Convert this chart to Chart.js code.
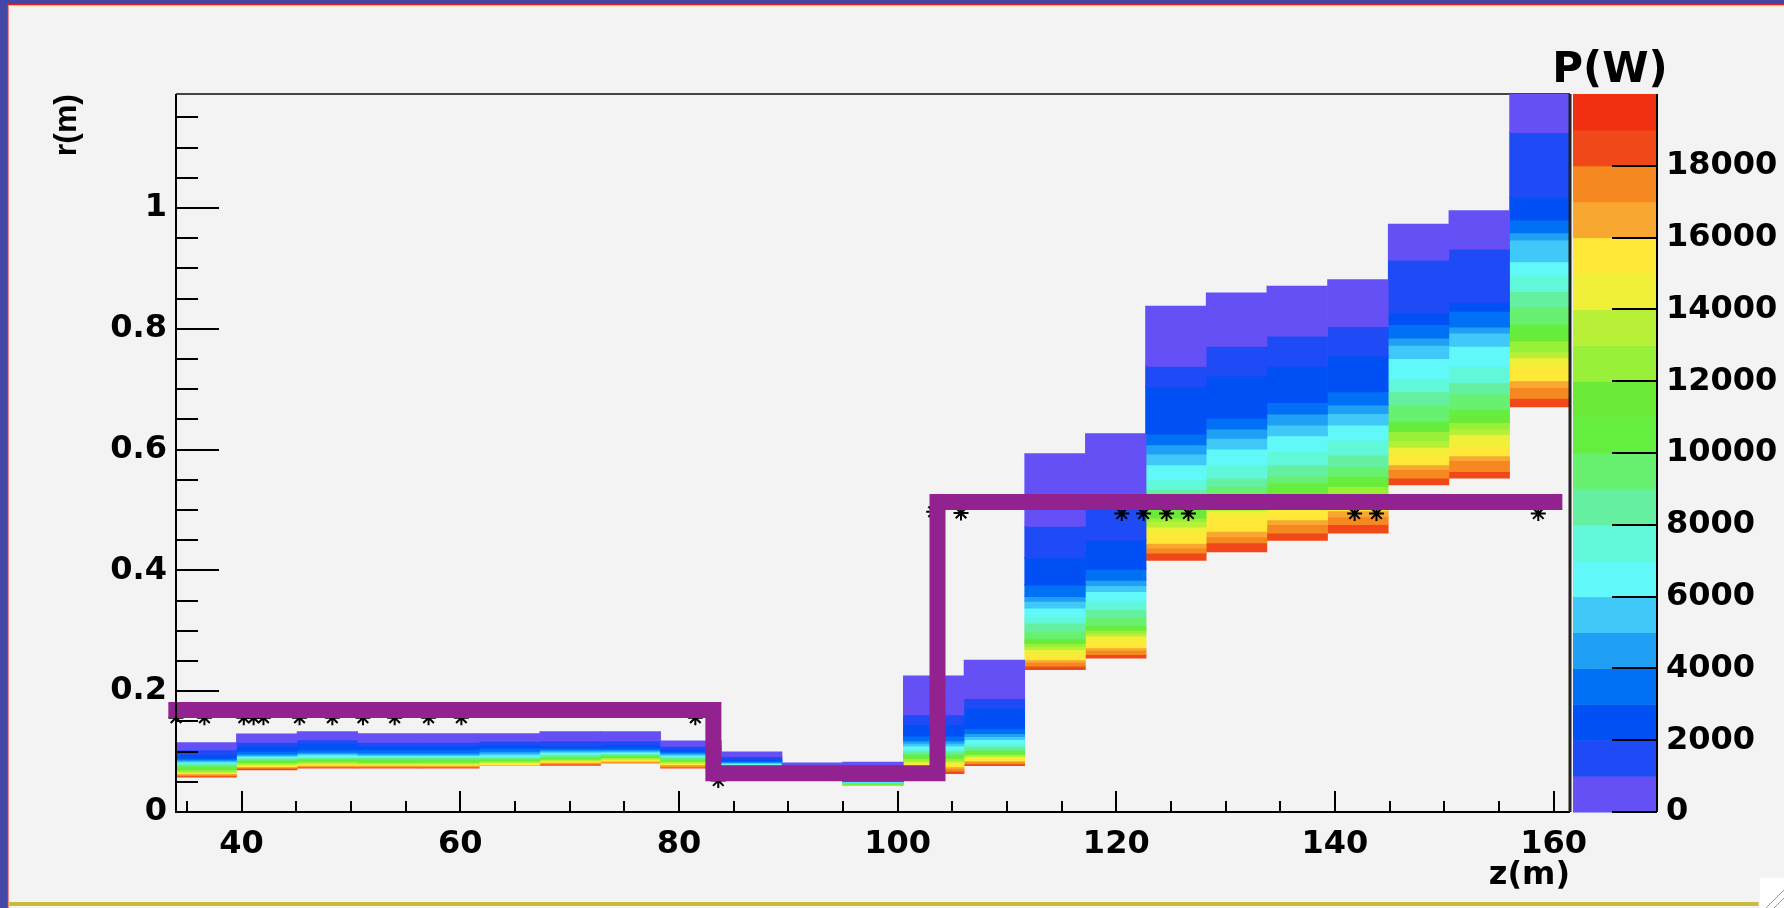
<!DOCTYPE html>
<html>
<head>
<meta charset="utf-8">
<script src="https://cdn.jsdelivr.net/npm/chart.js@4/dist/chart.umd.min.js"></script>
<style>
  html, body { margin: 0; padding: 0; background: #f3f3f3; }
</style>
</head>
<body>
<canvas id="c" width="1784" height="908"></canvas>
<script>
// z bin edges (m)
const zEdges = [34.0, 39.5, 45.1, 50.6, 56.2, 61.7, 67.3, 72.8, 78.3, 83.9, 89.4, 95.0,
  100.5, 106.1, 111.6, 117.2, 122.7, 128.2, 133.8, 139.3, 144.9, 150.4, 156.0, 161.5];

// r (m) where the colour level changes in each z bin, from the inner edge outwards.
// the lowest band is the hottest one, the last band is always level 0
const bandEdges = [
  [0.058, 0.060, 0.062, 0.064, 0.065, 0.066, 0.0675, 0.070, 0.073, 0.0758, 0.078, 0.080, 0.0814, 0.083, 0.085, 0.0868, 0.089, 0.095, 0.1034, 0.1145],
  [0.070, 0.0725, 0.074, 0.0755, 0.077, 0.0786, 0.080, 0.082, 0.084, 0.086, 0.0875, 0.089, 0.0905, 0.0925, 0.094, 0.096, 0.1006, 0.109, 0.1155, 0.129],
  [0.073, 0.0745, 0.076, 0.0775, 0.079, 0.0805, 0.0824, 0.0843, 0.0862, 0.088, 0.0893, 0.0905, 0.0913, 0.0951, 0.097, 0.099, 0.1034, 0.1145, 0.1199, 0.1327],
  [0.073, 0.0745, 0.076, 0.0775, 0.079, 0.0802, 0.0814, 0.083, 0.0855, 0.0875, 0.0897, 0.091, 0.0925, 0.094, 0.0951, 0.098, 0.1034, 0.110, 0.1155, 0.1294],
  [0.073, 0.0745, 0.076, 0.0775, 0.0785, 0.080, 0.0814, 0.083, 0.0855, 0.0875, 0.0897, 0.091, 0.0925, 0.094, 0.0951, 0.098, 0.1034, 0.110, 0.1155, 0.1294],
  [0.0775, 0.079, 0.0805, 0.082, 0.0835, 0.085, 0.0865, 0.088, 0.0895, 0.091, 0.0924, 0.095, 0.098, 0.1006, 0.1062, 0.112, 0.1172, 0.1294],
  [0.0775, 0.0795, 0.081, 0.0824, 0.0838, 0.0852, 0.0865, 0.088, 0.0895, 0.091, 0.093, 0.0951, 0.097, 0.099, 0.101, 0.1034, 0.106, 0.1089, 0.1183, 0.1327],
  [0.0814, 0.083, 0.0845, 0.086, 0.0875, 0.089, 0.0905, 0.092, 0.0935, 0.095, 0.0965, 0.098, 0.0995, 0.101, 0.1034, 0.106, 0.112, 0.1183, 0.1327],
  [0.0731, 0.0748, 0.0765, 0.0786, 0.080, 0.0814, 0.083, 0.0845, 0.086, 0.0875, 0.0897, 0.091, 0.0925, 0.094, 0.096, 0.098, 0.1006, 0.105, 0.1089, 0.1172],
  [0.062, 0.064, 0.066, 0.068, 0.070, 0.072, 0.074, 0.076, 0.078, 0.079, 0.080, 0.081, 0.082, 0.083, 0.085, 0.088, 0.092, 0.099],
  [0.055, 0.057, 0.058, 0.059, 0.060, 0.061, 0.062, 0.063, 0.064, 0.065, 0.066, 0.068, 0.074, 0.081],
  [0.044, 0.046, 0.047, 0.048, 0.0485, 0.049, 0.0495, 0.050, 0.0505, 0.051, 0.052, 0.060, 0.068, 0.082],
  [0.064, 0.068, 0.072, 0.075, 0.080, 0.083, 0.086, 0.089, 0.092, 0.095, 0.098, 0.101, 0.104, 0.110, 0.114, 0.118, 0.126, 0.145, 0.161, 0.225],
  [0.077, 0.080, 0.083, 0.085, 0.089, 0.092, 0.094, 0.096, 0.099, 0.102, 0.105, 0.109, 0.113, 0.120, 0.125, 0.130, 0.138, 0.172, 0.188, 0.251],
  [0.236, 0.242, 0.248, 0.252, 0.261, 0.269, 0.274, 0.279, 0.283, 0.288, 0.299, 0.313, 0.323, 0.338, 0.349, 0.357, 0.376, 0.421, 0.473, 0.593],
  [0.255, 0.261, 0.268, 0.272, 0.283, 0.292, 0.296, 0.301, 0.305, 0.309, 0.323, 0.336, 0.350, 0.365, 0.375, 0.384, 0.402, 0.450, 0.514, 0.626],
  [0.417, 0.429, 0.437, 0.445, 0.461, 0.472, 0.481, 0.487, 0.500, 0.511, 0.522, 0.534, 0.550, 0.575, 0.593, 0.608, 0.626, 0.704, 0.738, 0.837],
  [0.431, 0.446, 0.456, 0.465, 0.489, 0.499, 0.506, 0.513, 0.520, 0.527, 0.539, 0.553, 0.575, 0.601, 0.619, 0.634, 0.652, 0.722, 0.771, 0.859],
  [0.450, 0.462, 0.476, 0.484, 0.499, 0.507, 0.517, 0.527, 0.536, 0.545, 0.556, 0.575, 0.597, 0.623, 0.641, 0.659, 0.678, 0.738, 0.788, 0.870],
  [0.462, 0.476, 0.489, 0.499, 0.509, 0.519, 0.527, 0.539, 0.547, 0.556, 0.572, 0.591, 0.616, 0.641, 0.660, 0.674, 0.696, 0.755, 0.804, 0.881],
  [0.542, 0.553, 0.567, 0.575, 0.591, 0.604, 0.615, 0.630, 0.638, 0.647, 0.674, 0.696, 0.718, 0.751, 0.773, 0.785, 0.807, 0.826, 0.914, 0.973],
  [0.553, 0.564, 0.582, 0.590, 0.606, 0.625, 0.634, 0.645, 0.656, 0.667, 0.692, 0.711, 0.738, 0.771, 0.793, 0.803, 0.829, 0.843, 0.932, 0.995],
  [0.671, 0.685, 0.703, 0.714, 0.738, 0.752, 0.762, 0.780, 0.794, 0.808, 0.837, 0.862, 0.889, 0.911, 0.947, 0.959, 0.980, 1.018, 1.125, 1.19]
];

// P(W) levels of the palette and their colours
const powerLevels = [0, 1000, 2000, 3000, 4000, 5000, 6000, 7000, 8000, 9000, 10000,
  11000, 12000, 13000, 14000, 15000, 16000, 17000, 18000, 19000, 20000];
const palette = ['#6450f5', '#1e4bf5', '#0050f5', '#0070f5', '#20a0f5', '#40c8f8', '#60f8f8',
  '#60f8d8', '#64f0a0', '#68f070', '#64ee40', '#6cea38', '#98f038', '#b8f038', '#f0f038',
  '#ffe838', '#f8a830', '#f58820', '#f04818', '#f03010'];

const powerTicks = [0, 2000, 4000, 6000, 8000, 10000, 12000, 14000, 16000, 18000];
const rTicks = [0, 0.2, 0.4, 0.6, 0.8, 1];
const zTicks = [40, 60, 80, 100, 120, 140, 160];

// aperture step line
const apertureZ = [33.3, 83.15, 83.15, 103.65, 103.65, 160.8];
const apertureR = [0.169, 0.169, 0.064, 0.064, 0.513, 0.513];

// asterisk markers
const markZ = [34.0, 36.6, 40.2, 41.1, 42.0, 45.3, 48.3, 51.1, 54.0, 57.1, 60.1, 81.5, 83.6,
  103.3, 105.8, 120.5, 122.5, 124.6, 126.6, 141.8, 143.8, 158.6];
const markR = [0.156, 0.156, 0.156, 0.156, 0.156, 0.156, 0.156, 0.156, 0.156, 0.156, 0.156, 0.156, 0.052,
  0.497, 0.495, 0.494, 0.494, 0.494, 0.494, 0.494, 0.494, 0.494];

const boldWide = { family: 'DejaVu Sans', weight: 'bold', size: 32 };

// one floating-bar dataset per colour level
const bandSets = palette.map((col, k) => ({
  type: 'bar',
  label: 'P level ' + k,
  data: [],
  backgroundColor: col,
  borderWidth: 0,
  grouped: false,
  barPercentage: 1,
  categoryPercentage: 1,
  inflateAmount: 0.6,
  order: 3
}));
bandEdges.forEach((e, c) => {
  const zc = (zEdges[c] + zEdges[c + 1]) / 2;
  const top = e.length - 2;
  for (let i = 0; i + 1 < e.length; i++) {
    bandSets[top - i].data.push({ x: zc, y: [e[i], e[i + 1]] });
  }
});

const rootFrame = {
  id: 'rootFrame',
  beforeDraw(chart) {
    const { ctx, width, height } = chart;
    ctx.save();
    ctx.fillStyle = '#f3f3f3';
    ctx.fillRect(0, 0, width, height);
    // window border
    ctx.fillStyle = '#4547a6';
    ctx.fillRect(0, 0, width, 4);
    ctx.fillRect(0, 0, 7, height);
    ctx.fillStyle = '#e4202a';
    ctx.fillRect(7, 4, width - 7, 1.5);
    ctx.fillRect(7, 4, 1.5, height - 4);
    ctx.fillStyle = '#f4eea0';
    ctx.fillRect(8.5, 5.5, width - 8.5, 1);
    ctx.fillStyle = '#c9bb3c';
    ctx.fillRect(8.5, 902, 1750, 4);
    ctx.fillStyle = '#ffffff';
    ctx.fillRect(1760, 878, 24, 30);
    ctx.strokeStyle = '#999';
    ctx.lineWidth = 1;
    ctx.beginPath();
    ctx.moveTo(1766, 908); ctx.lineTo(1784, 890);
    ctx.moveTo(1774, 908); ctx.lineTo(1784, 898);
    ctx.stroke();
    ctx.restore();
  },
  beforeDatasetsDraw(chart) {
    const { ctx, chartArea: a } = chart;
    ctx.save();
    ctx.strokeStyle = '#444';
    ctx.lineWidth = 2;
    ctx.beginPath();
    ctx.moveTo(a.left, a.top);
    ctx.lineTo(a.right, a.top);
    ctx.stroke();
    ctx.restore();
  },
  afterDatasetsDraw(chart) {
    const { ctx, chartArea: a } = chart;
    const { x, y, yP } = chart.scales;
    ctx.save();

    // colour bar
    const cbL = a.right + 3, cbR = a.right + 87;
    for (let k = 0; k < palette.length; k++) {
      const y0 = yP.getPixelForValue(powerLevels[k]);
      const y1 = yP.getPixelForValue(powerLevels[k + 1]);
      ctx.fillStyle = palette[k];
      ctx.fillRect(cbL, y1, cbR - cbL, y0 - y1 + 0.5);
    }
    ctx.strokeStyle = '#000';
    ctx.lineWidth = 2;
    ctx.beginPath();
    ctx.moveTo(cbR, a.top); ctx.lineTo(cbR, a.bottom);
    powerTicks.forEach(v => {
      const py = Math.round(yP.getPixelForValue(v));
      ctx.moveTo(cbR - 45, py); ctx.lineTo(cbR, py);
    });
    ctx.stroke();

    // frame and axes
    ctx.beginPath();
    ctx.moveTo(a.left, a.top); ctx.lineTo(a.left, a.bottom); ctx.lineTo(a.right, a.bottom);
    ctx.stroke();
    ctx.lineWidth = 3;
    ctx.strokeStyle = '#222';
    ctx.beginPath();
    ctx.moveTo(a.right, a.top); ctx.lineTo(a.right, a.bottom);
    ctx.stroke();

    // ticks drawn inside the frame, ROOT style
    ctx.strokeStyle = '#000';
    ctx.lineWidth = 2;
    ctx.beginPath();
    for (let i = 0; i * 0.05 <= y.max; i++) {
      const py = Math.round(y.getPixelForValue(i * 0.05));
      const len = i % 4 === 0 ? 43 : 22;
      ctx.moveTo(a.left, py); ctx.lineTo(a.left + len, py);
    }
    for (let v = 35; v <= x.max; v += 5) {
      const px = Math.round(x.getPixelForValue(v));
      const len = v % 20 === 0 ? 21 : 11;
      ctx.moveTo(px, a.bottom); ctx.lineTo(px, a.bottom - len);
    }
    ctx.stroke();

    // colour bar title
    ctx.fillStyle = '#000';
    ctx.font = 'bold 42px "DejaVu Sans"';
    ctx.textAlign = 'center';
    ctx.textBaseline = 'alphabetic';
    ctx.fillText('P(W)', cbL + 37, 82);
    ctx.restore();
  }
};

new Chart(document.getElementById('c'), {
  type: 'bar',
  data: {
    datasets: [
      {
        type: 'line',
        label: 'aperture',
        data: apertureZ.map((z, i) => ({ x: z, y: apertureR[i] })),
        borderColor: '#92228f',
        borderWidth: 16,
        borderCapStyle: 'butt',
        borderJoinStyle: 'miter',
        pointRadius: 0,
        fill: false,
        tension: 0,
        clip: false,
        order: 1
      },
      {
        type: 'scatter',
        label: 'markers',
        data: markZ.map((z, i) => ({ x: z, y: markR[i] })),
        pointStyle: 'star',
        pointRadius: 7.5,
        borderColor: '#000',
        backgroundColor: 'rgba(0,0,0,0)',
        pointBorderWidth: 2,
        clip: false,
        order: 2
      },
      ...bandSets
    ]
  },
  options: {
    responsive: false,
    animation: false,
    events: [],
    layout: { padding: { top: 94, left: 0, right: 0, bottom: 0 } },
    plugins: { legend: { display: false }, tooltip: { enabled: false } },
    scales: {
      x: {
        type: 'linear',
        min: 34,
        max: 161.5,
        offset: false,
        grid: { display: false, drawTicks: false, offset: false },
        border: { display: false },
        afterBuildTicks: s => { s.ticks = zTicks.map(v => ({ value: v })); },
        afterFit: s => { s.height = 96; },
        ticks: { color: '#000', font: boldWide, padding: 13, maxRotation: 0, autoSkip: false, callback: v => String(v) },
        title: { display: true, text: 'z(m)', align: 'end', color: '#000', font: boldWide, padding: { top: 0, bottom: 13 } }
      },
      y: {
        type: 'linear',
        position: 'left',
        min: 0,
        max: 1.1886,
        grid: { display: false, drawTicks: false },
        border: { display: false },
        afterBuildTicks: s => { s.ticks = rTicks.map(v => ({ value: v })); },
        afterFit: s => { s.width = 176; },
        ticks: { color: '#000', font: boldWide, padding: 9, autoSkip: false, callback: v => String(v) },
        title: {
          display: true, text: 'r(m)', align: 'end', color: '#000',
          font: { family: 'Liberation Sans', weight: 'bold', size: 32 },
          padding: { top: 48, bottom: 0 }
        }
      },
      yP: {
        type: 'linear',
        position: 'right',
        min: 0,
        max: 20000,
        // hidden tick marks only push the labels past the colour bar
        grid: { display: false, drawTicks: true, tickLength: 94 },
        border: { display: false },
        afterBuildTicks: s => { s.ticks = powerTicks.map(v => ({ value: v })); },
        afterFit: s => { s.width = 214; },
        ticks: { color: '#000', font: boldWide, padding: 2, autoSkip: false, callback: v => String(v) }
      }
    }
  },
  plugins: [rootFrame]
});
</script>
</body>
</html>
